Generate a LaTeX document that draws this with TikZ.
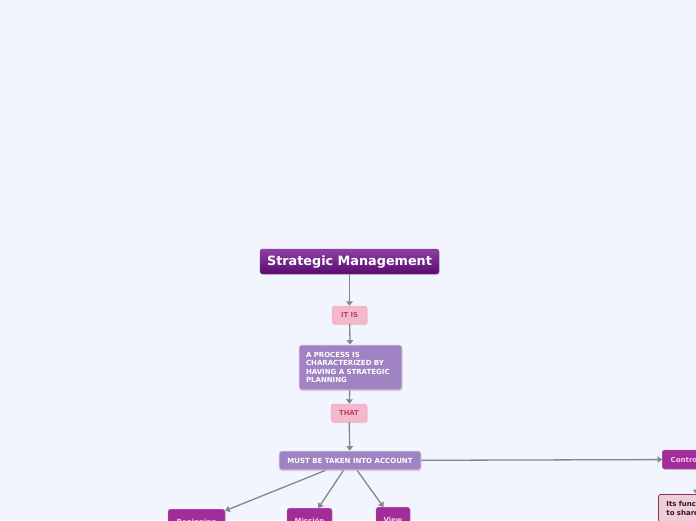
\documentclass[tikz,border=0pt]{standalone}
\usepackage{fontspec}
\setmainfont{DejaVu Sans}
\usetikzlibrary{arrows.meta,shadows}
\definecolor{bgc}{HTML}{F3F5FE}
\definecolor{titletop}{HTML}{8E3FA3}
\definecolor{titlebot}{HTML}{5A0C6E}
\definecolor{pinkfill}{HTML}{F5B7CB}
\definecolor{pinkline}{HTML}{EFA3BD}
\definecolor{pinktext}{HTML}{C03F6C}
\definecolor{lavfill}{HTML}{A083C2}
\definecolor{lavline}{HTML}{E4DCF0}
\definecolor{magfill}{HTML}{A02D98}
\definecolor{magline}{HTML}{C865C4}
\definecolor{magtext}{HTML}{F9CBF1}
\definecolor{funcfill}{HTML}{EBCFD9}
\definecolor{funcline}{HTML}{8C3050}
\definecolor{functext}{HTML}{4A0A22}
\definecolor{edgec}{HTML}{85858D}
\tikzset{
  box/.style={rounded corners=2.5pt, inner sep=0pt, align=center, font=\bfseries,
    drop shadow={shadow xshift=0.6pt, shadow yshift=-1pt, opacity=0.25}},
  titlebox/.style={box, top color=titletop, bottom color=titlebot, draw=titlebot!80,
    text=white, font=\fontsize{12.8}{14}\selectfont\bfseries},
  pinkbox/.style={box, fill=pinkfill, draw=pinkline, text=pinktext,
    font=\fontsize{6.8}{8}\selectfont\bfseries},
  lavbox/.style={box, fill=lavfill, draw=lavline, line width=0.8pt, text=white,
    font=\fontsize{7}{8.3}\selectfont\bfseries},
  magbox/.style={box, fill=magfill, draw=magline, text=magtext,
    font=\fontsize{7}{8.3}\selectfont\bfseries},
  funcbox/.style={box, fill=funcfill, draw=funcline, line width=0.8pt, text=functext,
    font=\fontsize{7}{8.3}\selectfont\bfseries},
  conn/.style={draw=edgec, line width=1.3pt, -{Triangle[length=4.5pt,width=6.5pt]}},
}
\begin{document}
\begin{tikzpicture}[x=1pt,y=-1pt]
\useasboundingbox (0,0) rectangle (696,520);
\fill[bgc] (0,0) rectangle (696,520);
\clip (0,0) rectangle (696,520);

\node[titlebox, minimum width=179pt, minimum height=25pt, text depth=1.5pt] (title) at (349.5,261.5) {Strategic Management};
\node[pinkbox, minimum width=35pt, minimum height=18pt] (itis) at (349.5,315) {IT IS};
\node[lavbox, minimum width=103pt, minimum height=45pt, text width=89pt, align=left] (proc) at (350.5,367.5)
  {A PROCESS IS\\CHARACTERIZED BY\\HAVING A STRATEGIC\\PLANNING};
\node[pinkbox, minimum width=36pt, minimum height=18pt] (that) at (349,413) {THAT};
\node[lavbox, minimum width=142pt, minimum height=19pt] (must) at (350,460.5) {MUST BE TAKEN INTO ACCOUNT};
\node[magbox, minimum width=46pt, minimum height=19pt, anchor=west] (control) at (662,459.5) {Control};
\node[funcbox, inner xsep=8pt, inner ysep=7pt, anchor=north west, text width=100pt, align=left] (func) at (658,494)
  {Its function\\to share};
\node[magbox, minimum width=57pt, minimum height=26pt, anchor=north] (begin) at (196.5,509) {Beginning};
\node[magbox, minimum width=45pt, minimum height=26pt, anchor=north] (mission) at (309.5,508) {Missión};
\node[magbox, minimum width=34pt, minimum height=26pt, anchor=north] (view) at (393,507) {View};

\draw[conn] (title) -- (itis);
\draw[conn] (itis) -- (proc);
\draw[conn] (proc) -- (that);
\draw[conn] (that) -- (must);
\draw[conn] (must) -- (control);
\draw[conn] (must) -- (begin);
\draw[conn] (must) -- (mission);
\draw[conn] (must) -- (view);
\draw[conn] ([xshift=11pt]control.south) -- ([xshift=11pt]control.south |- func.north);
\end{tikzpicture}
\end{document}
